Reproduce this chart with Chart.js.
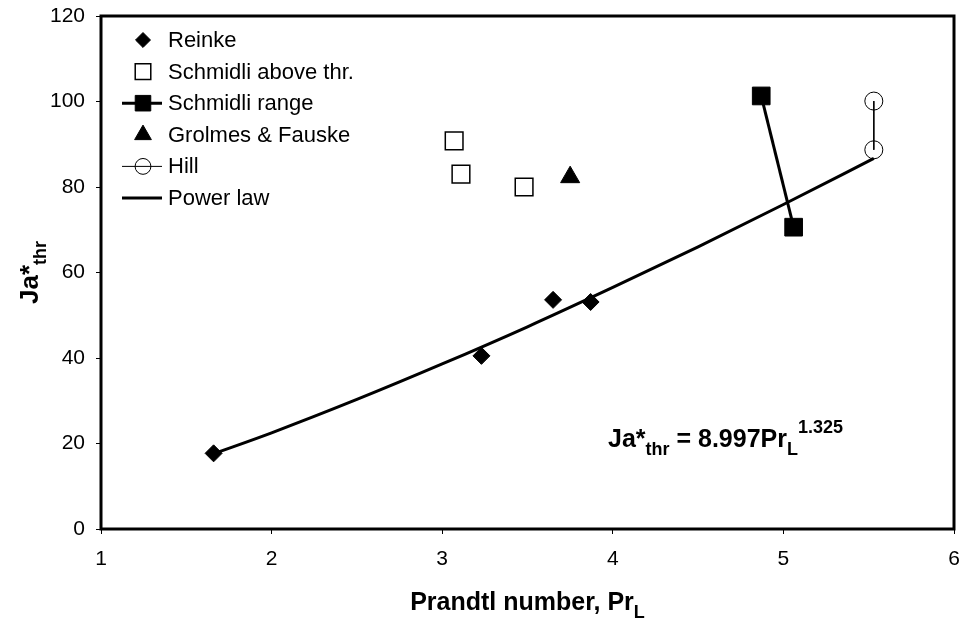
<!DOCTYPE html>
<html>
<head>
<meta charset="utf-8">
<script src="https://cdn.jsdelivr.net/npm/chart.js@4.4.0/dist/chart.umd.min.js"></script>
<style>
  html, body { margin: 0; background: #fff; overflow: hidden; }
  #chart { display: block; }
</style>
</head>
<body>
<canvas id="chart" width="962" height="619"></canvas>
<script>
const FONT = "'Liberation Sans', Arial, sans-serif";

// measured threshold Jakob numbers against liquid Prandtl number
const reinkeX = [1.66, 3.23, 3.65, 3.87];
const reinkeY = [17.7, 40.5, 53.6, 53.1];
const schmidliAboveX = [3.07, 3.11, 3.48];
const schmidliAboveY = [90.8, 83.0, 80.0];
const schmidliRangeX = [4.87, 5.06];
const schmidliRangeY = [101.3, 70.6];
const grolmesX = [3.75];
const grolmesY = [82.3];
const hillX = [5.53, 5.53];
const hillY = [100.1, 88.7];
// fitted power-law curve
const powerX = [1.66, 2.0, 2.5, 3.0, 3.5, 4.0, 4.5, 5.0, 5.53];
const powerY = [17.6, 22.5, 30.3, 38.6, 47.3, 56.5, 66.0, 75.9, 86.7];

const xRange = [1, 6];
const yRange = [0, 120];

const zip = (xs, ys) => xs.map((x, i) => ({ x, y: ys[i] }));

function series(label, xs, ys, extra) {
  return {
    label,
    data: zip(xs, ys),
    showLine: false,
    borderColor: '#000',
    backgroundColor: '#000',
    pointBorderColor: '#000',
    pointBackgroundColor: '#000',
    pointBorderWidth: 1,
    pointHoverRadius: 0,
    clip: false,
    ...extra
  };
}

const datasets = [
  series('Reinke', reinkeX, reinkeY, { pointStyle: 'rectRot', pointRadius: 8.5 }),
  series('Schmidli above thr.', schmidliAboveX, schmidliAboveY, {
    pointStyle: 'rect', pointRadius: 12.5, pointBackgroundColor: '#fff', pointBorderWidth: 1.5
  }),
  series('Schmidli range', schmidliRangeX, schmidliRangeY, {
    pointStyle: 'rect', pointRadius: 12.5, showLine: true, borderWidth: 3
  }),
  series('Grolmes & Fauske', grolmesX, grolmesY, { pointStyle: 'triangle', pointRadius: 11 }),
  series('Hill', hillX, hillY, {
    pointStyle: 'circle', pointRadius: 9, pointBackgroundColor: 'rgba(0,0,0,0)',
    showLine: true, borderWidth: 1
  }),
  series('Power law', powerX, powerY, {
    pointRadius: 0, showLine: true, borderWidth: 3, cubicInterpolationMode: 'monotone'
  })
];

// draws text runs with sub/superscripts; parts = [[text, 'n'|'sub'|'sup'], ...]
function drawRich(ctx, parts, x, y, size) {
  let cx = x;
  parts.forEach(([text, kind]) => {
    const s = kind === 'n' ? size : Math.round(size * 0.7);
    const dy = kind === 'sub' ? size * 0.3 : kind === 'sup' ? -size * 0.55 : 0;
    ctx.font = `bold ${s}px ${FONT}`;
    ctx.fillText(text, cx, y + dy);
    cx += ctx.measureText(text).width;
  });
  return cx - x;
}

function richWidth(ctx, parts, size) {
  let w = 0;
  parts.forEach(([text, kind]) => {
    const s = kind === 'n' ? size : Math.round(size * 0.7);
    ctx.font = `bold ${s}px ${FONT}`;
    w += ctx.measureText(text).width;
  });
  return w;
}

const RIGHT_GAP = 8;

const decorPlugin = {
  id: 'decor',
  // stretch the plot box out to the right margin
  afterLayout(chart) {
    const a = chart.chartArea;
    const xs = chart.scales.x;
    const r = chart.width - RIGHT_GAP;
    a.right = r;
    a.width = r - a.left;
    xs.right = r;
    xs.width = r - xs.left;
    if (typeof xs.configure === 'function') xs.configure();
  },
  beforeDatasetsDraw(chart) {
    const { ctx, chartArea: a } = chart;
    ctx.save();
    ctx.strokeStyle = '#000';
    ctx.lineWidth = 3;
    ctx.strokeRect(a.left, a.top, a.right - a.left, a.bottom - a.top);
    ctx.restore();
  },
  afterDraw(chart) {
    const { ctx, chartArea: a } = chart;
    ctx.save();
    ctx.fillStyle = '#000';
    ctx.textBaseline = 'alphabetic';
    ctx.textAlign = 'left';

    // x-axis title
    const xt = [['Prandtl number, Pr', 'n'], ['L', 'sub']];
    const xw = richWidth(ctx, xt, 25);
    drawRich(ctx, xt, (a.left + a.right) / 2 - xw / 2, 610, 25);

    // y-axis title, rotated
    const yt = [['Ja*', 'n'], ['thr', 'sub']];
    const yw = richWidth(ctx, yt, 26);
    ctx.save();
    ctx.translate(38, (a.top + a.bottom) / 2);
    ctx.rotate(-Math.PI / 2);
    drawRich(ctx, yt, -yw / 2, 0, 26);
    ctx.restore();

    // fitted equation
    drawRich(ctx, [['Ja*', 'n'], ['thr', 'sub'], [' = 8.997Pr', 'n'], ['L', 'sub'], ['1.325', 'sup']],
      608, 447, 25);

    // legend
    const legX = 143, legY = 40, step = 31.6;
    chart.data.datasets.forEach((ds, i) => {
      const y = legY + i * step;
      if (ds.showLine) {
        ctx.strokeStyle = '#000';
        ctx.lineWidth = ds.borderWidth;
        ctx.beginPath();
        ctx.moveTo(legX - 21, y);
        ctx.lineTo(legX + 19, y);
        ctx.stroke();
      }
      if (ds.pointRadius > 0) {
        ctx.fillStyle = ds.pointBackgroundColor;
        ctx.strokeStyle = ds.pointBorderColor;
        ctx.lineWidth = ds.pointBorderWidth;
        Chart.helpers.drawPoint(ctx, {
          pointStyle: ds.pointStyle,
          radius: ds.pointRadius * 0.88,
          rotation: 0,
          borderWidth: ds.pointBorderWidth
        }, legX, y);
      }
      ctx.fillStyle = '#000';
      ctx.font = `22px ${FONT}`;
      ctx.textBaseline = 'middle';
      ctx.fillText(ds.label, legX + 25, y + 1);
      ctx.textBaseline = 'alphabetic';
    });
    ctx.restore();
  }
};

Chart.defaults.font.family = FONT;
Chart.defaults.color = '#000';

new Chart(document.getElementById('chart'), {
  type: 'scatter',
  data: { datasets },
  plugins: [decorPlugin],
  options: {
    responsive: false,
    animation: false,
    events: [],
    layout: { padding: { top: 16, right: RIGHT_GAP, bottom: 0, left: 0 } },
    plugins: { legend: { display: false }, tooltip: { enabled: false } },
    scales: {
      x: {
        type: 'linear',
        min: xRange[0],
        max: xRange[1],
        ticks: { stepSize: 1, padding: 13, font: { size: 21 }, color: '#000' },
        grid: { drawOnChartArea: false, drawTicks: true, tickLength: 5, color: '#000', lineWidth: 1 },
        border: { display: false },
        afterFit: (scale) => {
          scale.height = 90;
          scale.paddingLeft = 0;
          scale.paddingRight = 0;
        }
      },
      y: {
        type: 'linear',
        min: yRange[0],
        max: yRange[1],
        ticks: { stepSize: 20, padding: 11, font: { size: 21 }, color: '#000' },
        grid: { drawOnChartArea: false, drawTicks: true, tickLength: 5, color: '#000', lineWidth: 1 },
        border: { display: false },
        afterFit: (scale) => {
          scale.width = 101;
          scale.paddingTop = 0;
          scale.paddingBottom = 0;
        }
      }
    }
  }
});
</script>
</body>
</html>
